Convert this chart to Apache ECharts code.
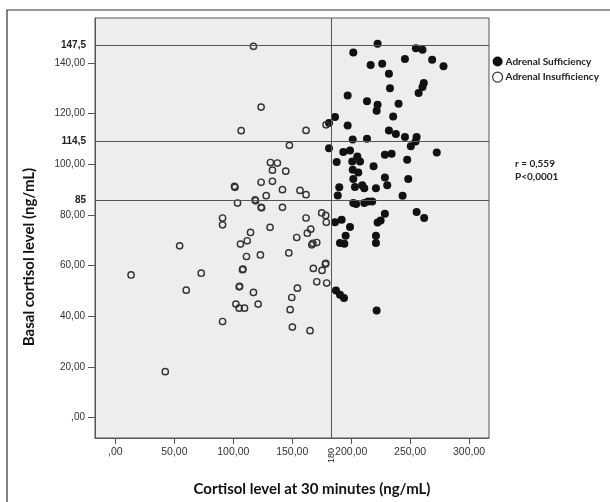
<!DOCTYPE html>
<html>
<head>
<meta charset="utf-8">
<script src="https://cdn.jsdelivr.net/npm/echarts@6/dist/echarts.min.js"></script>
<style>
html,body{margin:0;padding:0;background:#fff;}
#chart{width:610px;height:502px;}
</style>
</head>
<body>
<div id="chart"></div>
<script>
// ---- data ----
var adrenalSufficiency = [
  [222.4,147.6],[201.8,144.2],[254.9,145.9],[260.5,145.3],[245.6,141.6],[268.7,141.3],
  [216.5,139.2],[226.3,139.7],[278.3,138.7],[232.0,135.8],[261.6,132.1],[260.5,130.5],
  [257.2,128.2],[232.9,130.1],[197.0,127.2],[213.4,124.9],[222.4,123.5],[221.6,121.2],
  [240.2,123.9],[235.6,118.9],[186.3,118.7],[181.2,116.3],[197.0,115.3],[232.0,113.4],
  [237.9,112.0],[245.6,110.8],[255.5,110.8],[254.6,109.0],[250.6,107.1],[201.3,109.8],
  [213.4,110.1],[181.2,106.4],[193.3,104.9],[199.0,105.5],[205.2,103.1],[207.5,101.1],
  [187.7,100.9],[200.9,101.1],[201.3,97.9],[206.0,96.8],[201.8,94.2],[219.0,99.2],
  [228.6,103.8],[234.3,104.2],[272.6,104.7],[247.5,101.8],[248.4,94.2],[228.6,94.8],
  [230.6,91.7],[189.9,90.9],[188.6,87.7],[203.2,91.0],[209.4,91.7],[211.1,90.6],
  [221.0,90.6],[243.6,87.6],[201.8,84.7],[204.2,84.3],[211.1,84.7],[214.4,85.3],
  [217.8,85.3],[255.5,81.2],[261.9,78.8],[228.6,80.5],[225.0,77.8],[222.4,77.0],
  [186.3,77.1],[191.9,78.1],[199.0,75.2],[195.3,71.8],[190.5,68.9],[194.2,68.6],
  [221.0,71.8],[221.0,68.9],[187.1,50.2],[190.5,48.5],[193.9,47.2],[221.6,42.3]
];
var adrenalInsufficiency = [
  [117.1,146.6],[123.6,122.6],[106.7,113.3],[161.7,113.4],[178.7,115.6],[147.6,107.5],
  [131.5,100.7],[137.4,100.5],[133.2,97.7],[144.5,97.3],[101.0,91.3],[101.4,90.9],
  [123.6,92.9],[133.2,93.3],[141.7,90.0],[156.6,89.7],[161.7,88.0],[103.6,84.7],
  [118.5,86.0],[118.9,85.6],[127.9,87.6],[123.6,83.0],[124.0,82.8],[141.7,83.0],
  [90.9,78.8],[90.9,76.1],[114.6,73.1],[131.2,75.1],[161.7,78.8],[175.0,80.8],
  [178.4,79.8],[178.9,77.1],[165.7,74.4],[162.8,72.8],[153.8,71.1],[54.5,67.8],
  [106.1,68.5],[111.8,69.8],[166.6,68.2],[167.5,68.8],[170.8,69.1],[111.2,63.6],
  [123.0,64.2],[147.1,65.0],[13.3,56.3],[72.8,57.0],[107.8,58.4],[108.2,58.6],
  [167.9,58.9],[175.3,58.1],[178.1,60.6],[178.5,60.9],[60.1,50.3],[105.0,51.6],
  [105.4,51.8],[117.1,49.4],[154.4,51.1],[170.8,53.6],[179.2,53.1],[149.6,47.4],
  [102.2,44.8],[105.0,43.2],[109.5,43.2],[121.1,44.8],[148.2,42.6],[90.9,37.9],
  [150.1,35.7],[165.1,34.3],[42.3,18.1]
];
var xTicks = [0, 50, 100, 150, 200, 250, 300];
var yTicks = [0, 20, 40, 60, 80, 100, 120, 140];
var refLinesY = [147.2, 109.1, 86.0];
var refLinesYLabels = ['147,5', '114,5', '85'];
var refLineX = 183;
var refLineXLabel = '180';
var seriesNames = ['Adrenal Sufficiency', 'Adrenal Insufficiency'];
var xTitle = 'Cortisol level at 30 minutes (ng/mL)';
var yTitle = 'Basal cortisol level (ng/mL)';
var statsText = ['r = 0,559', 'P<0,0001'];

function fmt(v) {
  return v === 0 ? ',00' : v.toFixed(2).replace('.', ',');
}

var chart = echarts.init(document.getElementById('chart'), null, {renderer: 'canvas'});

var hLineData = refLinesY.map(function (v, i) {
  return {yAxis: v, label: {formatter: refLinesYLabels[i]}};
});

var option = {
  animation: false,
  backgroundColor: '#ffffff',
  grid: {
    left: 95, top: 18, width: 394, height: 420,
    show: true, backgroundColor: '#ededed', borderColor: '#555', borderWidth: 1
  },
  xAxis: [{
    type: 'value', min: -17.3, max: 316.9,
    axisLine: {show: true, onZero: false, lineStyle: {color: '#555'}},
    axisTick: {show: true, customValues: xTicks, length: 6, lineStyle: {color: '#555'}},
    axisLabel: {customValues: xTicks, formatter: fmt, margin: 9, fontSize: 10.5,
      color: '#333', fontFamily: 'Liberation Sans'},
    splitLine: {show: false}
  }, {
    type: 'value', min: -17.3, max: 316.9, position: 'bottom',
    axisLine: {show: false}, axisTick: {show: false}, splitLine: {show: false},
    axisLabel: {customValues: [refLineX], formatter: function () { return refLineXLabel; },
      rotate: 90, margin: 10, fontSize: 9, color: '#222', fontFamily: 'Liberation Sans'}
  }],
  yAxis: {
    type: 'value', min: -8.1, max: 157.8,
    axisLine: {show: true, onZero: false, lineStyle: {color: '#555'}},
    axisTick: {show: true, customValues: yTicks, length: 7, lineStyle: {color: '#555'}},
    axisLabel: {customValues: yTicks, formatter: fmt, margin: 10, fontSize: 10,
      color: '#333', fontFamily: 'Liberation Sans'},
    splitLine: {show: false}
  },
  legend: {
    orient: 'vertical', left: 492, top: 56.5, padding: 0, itemWidth: 10, itemHeight: 10, itemGap: 5,
    data: [
      {name: seriesNames[0], icon: 'circle', itemStyle: {color: '#111', borderWidth: 0}},
      {name: seriesNames[1], icon: 'circle', itemStyle: {color: '#fff', borderColor: '#333', borderWidth: 1.2}}
    ],
    textStyle: {fontSize: 10, fontWeight: 'bold', color: '#222', fontFamily: 'Lato', padding: [0, 0, 0, -2]},
    selectedMode: false
  },
  graphic: [
    {type: 'rect', silent: true, shape: {x: 7, y: 10, width: 700, height: 700},
      style: {fill: 'none', stroke: '#333', lineWidth: 1.2}},
    {type: 'text', x: 312, y: 489, silent: true,
      style: {text: xTitle, fill: '#111', font: 'bold 15px Lato', textAlign: 'center', textVerticalAlign: 'middle'}},
    {type: 'text', x: 29, y: 257, rotation: Math.PI / 2, silent: true,
      style: {text: yTitle, fill: '#111', font: 'bold 15px Lato', textAlign: 'center', textVerticalAlign: 'middle'}},
    {type: 'text', x: 515, y: 157, silent: true,
      style: {text: statsText.join('\n'), fill: '#222', font: 'bold 10px Lato', lineHeight: 13}}
  ],
  series: [{
    name: seriesNames[0], type: 'scatter', data: adrenalSufficiency, symbolSize: 8,
    itemStyle: {color: '#111', opacity: 1}, z: 3,
    markLine: {
      silent: true, symbol: 'none', animation: false,
      lineStyle: {color: '#555', width: 1, type: 'solid'},
      label: {show: true, position: 'start', distance: 9, fontSize: 10, fontWeight: 'bold',
        color: '#222', fontFamily: 'Liberation Sans'},
      data: hLineData.concat([{xAxis: refLineX, label: {show: false}}])
    }
  }, {
    name: seriesNames[1], type: 'scatter', data: adrenalInsufficiency, symbolSize: 6.3,
    itemStyle: {color: 'rgba(0,0,0,0)', borderColor: '#333', borderWidth: 1.4, opacity: 1}, z: 3
  }]
};
chart.setOption(option);
</script>
</body>
</html>
